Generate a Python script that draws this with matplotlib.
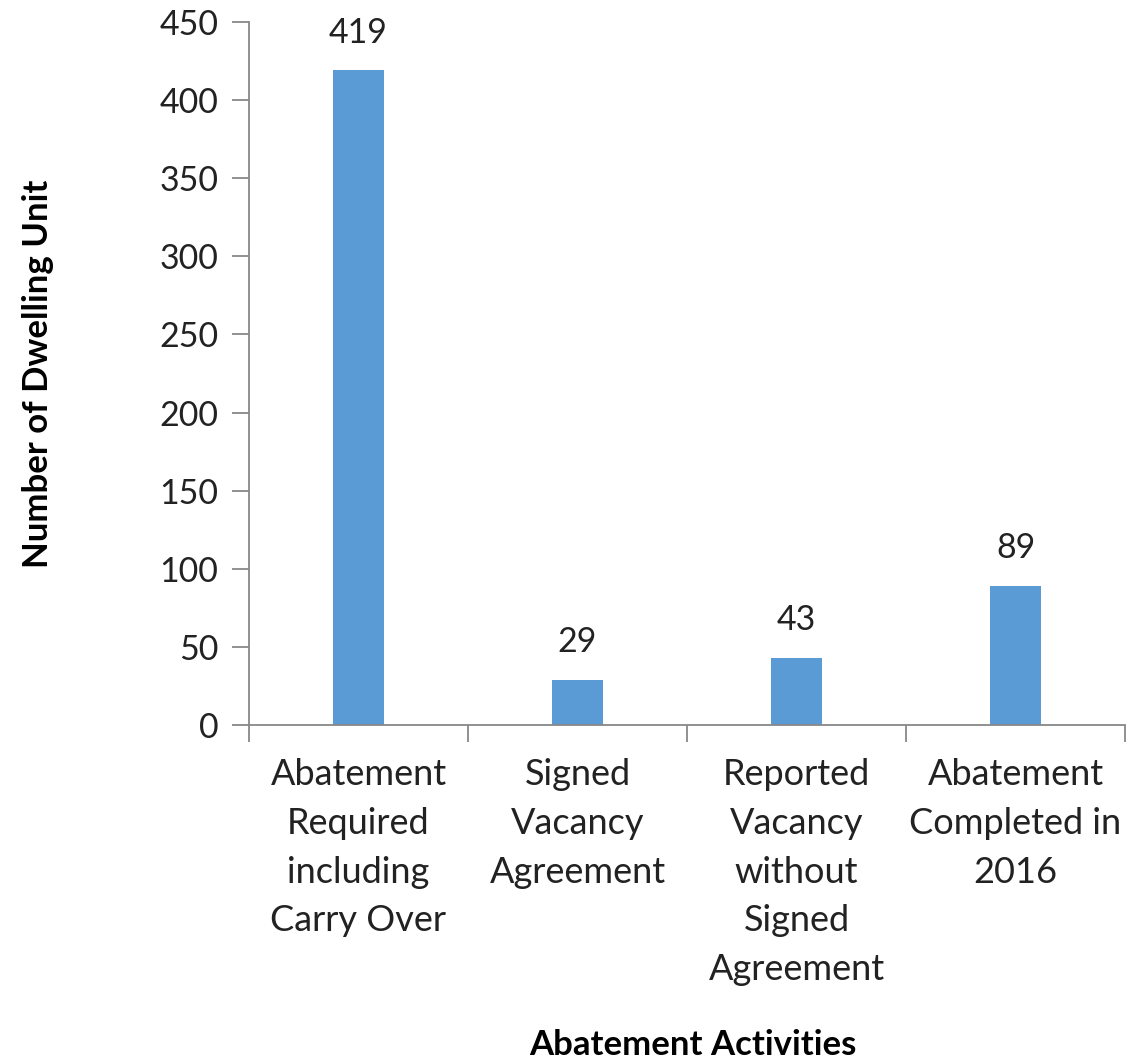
import matplotlib
matplotlib.use('Agg')
import matplotlib.pyplot as plt
import numpy as np

categories = ['Abatement\nRequired\nincluding\nCarry Over',
              'Signed\nVacancy\nAgreement',
              'Reported\nVacancy\nwithout\nSigned\nAgreement',
              'Abatement\nCompleted in\n2016']
values = [419, 29, 43, 89]
yticks = [0, 50, 100, 150, 200, 250, 300, 350, 400, 450]

plt.rcParams['font.family'] = ['Lato', 'DejaVu Sans']

fig = plt.figure(figsize=(11.26, 10.62), dpi=100)
ax = fig.add_axes([249/1126, 1 - 725/1062, 876/1126, (725 - 22)/1062])

x = np.arange(len(values))
bars = ax.bar(x, values, width=0.235, color='#5B9BD5', zorder=2)
for xi, v in zip(x, values):
    ax.text(xi, v + 14, str(v), ha='center', va='bottom', fontsize=24.5, color='#222222')

ax.set_xlim(-0.5, len(values) - 0.5)
ax.set_ylim(0, 450)
ax.set_yticks(yticks)
ax.set_yticklabels([str(t) for t in yticks], fontsize=24.5, color='#222222')
ax.tick_params(axis='y', length=12, width=1.3, color='#888888', pad=10)

# category labels between boundary ticks
ax.set_xticks(x)
ax.set_xticklabels(categories, fontsize=26, color='#222222', linespacing=1.58)
ax.tick_params(axis='x', length=0, pad=24)
ax.set_xticks(np.arange(len(values) + 1) - 0.5, minor=True)
ax.tick_params(axis='x', which='minor', length=12, width=1.3, color='#888888')

for s in ['top', 'right']:
    ax.spines[s].set_visible(False)
for s in ['left', 'bottom']:
    ax.spines[s].set_color('#888888')
    ax.spines[s].set_linewidth(1.3)

ax.set_ylabel('Number of Dwelling Unit', fontsize=25, fontweight='bold')
ax.yaxis.set_label_coords(-195/876, 0.5)
fig.text(0.615, 1 - 1045/1062, 'Abatement Activities', ha='center', va='center',
         fontsize=25, fontweight='bold')

fig.savefig('out.png', dpi=100)
